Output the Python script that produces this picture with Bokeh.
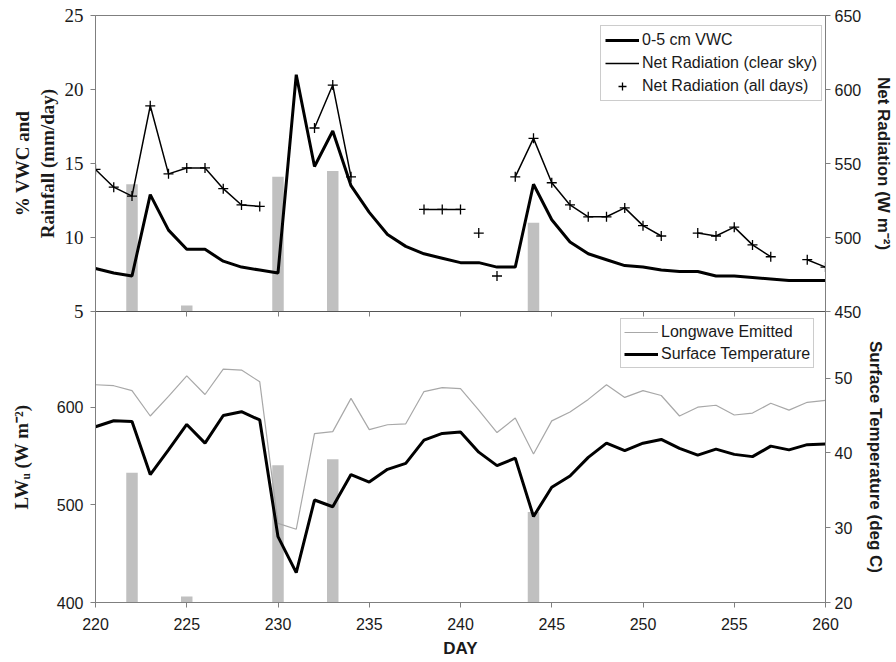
import numpy as np
from bokeh.plotting import figure
from bokeh.models import Range1d, LinearAxis, FixedTicker, Legend, LegendItem
from bokeh.layouts import column
from bokeh.embed import file_html
from bokeh.resources import INLINE

nan = np.nan

days = list(range(220, 261))

vwc = [7.9, 7.6, 7.4, 12.9, 10.5, 9.2, 9.2, 8.4, 8.0, 7.8, 7.6,
       21.0, 14.8, 17.2, 13.5, 11.7, 10.2, 9.4, 8.9, 8.6, 8.3,
       8.3, 8.0, 8.0, 13.6, 11.2, 9.7, 8.9, 8.5, 8.1, 8.0,
       7.8, 7.7, 7.7, 7.4, 7.4, 7.3, 7.2, 7.1, 7.1, 7.1]

net_rad_all = [546, 534, 528, 589, 543, 547, 547, 533, 522, 521, nan,
               nan, 574, 603, 541, nan, nan, nan, 519, 519, 519,
               503, 474, 541, 567, 537, 522, 514, 514, 520, 508,
               501, nan, 503, 501, 507, 495, 487, nan, 485, 480]

cloudy_days = [241, 242]
net_rad_clear = [nan if d in cloudy_days else v for d, v in zip(days, net_rad_all)]

rain_days = [222, 225, 230, 233, 244]
rain_mm = [13.6, 5.4, 14.1, 14.5, 11.0]

lw_emitted = [623, 622, 617, 591, 611, 632, 613, 639, 638, 626, 481,
              475, 573, 575, 609, 577, 582, 583, 616, 620, 619,
              597, 574, 589, 552, 586, 595, 608, 623, 610, 617,
              612, 591, 600, 602, 592, 594, 604, 597, 605, 607]

surf_temp = [43.5, 44.3, 44.2, 37.1, 40.4, 43.8, 41.3, 45.0, 45.5, 44.4, 28.8,
             24.0, 33.7, 32.8, 37.1, 36.1, 37.8, 38.6, 41.7, 42.6, 42.8,
             40.1, 38.3, 39.3, 31.5, 35.4, 36.9, 39.4, 41.3, 40.3, 41.3,
             41.8, 40.6, 39.7, 40.5, 39.8, 39.5, 40.9, 40.4, 41.1, 41.2]

x_ticks = [220, 225, 230, 235, 240, 245, 250, 255, 260]
vwc_ticks = [5, 10, 15, 20, 25]
rad_ticks = [450, 500, 550, 600, 650]
lw_ticks = [400, 500, 600]
temp_ticks = [20, 30, 40, 50]

AX = "#7f7f7f"
TXT = "#1a1a1a"
BAR = "#c0c0c0"
SANS = "Liberation Sans"
SERIF = "Liberation Serif"
OVERLAP = 13


def style_axis(ax, font, size, label_font, label_size, std, lstd):
    ax.axis_line_color = AX
    ax.major_tick_line_color = AX
    ax.minor_tick_line_color = None
    ax.major_tick_out = 5
    ax.major_tick_in = 0
    ax.major_label_text_font = font
    ax.major_label_text_font_size = size
    ax.major_label_text_color = TXT
    ax.major_label_standoff = std
    ax.axis_label_text_font = label_font
    ax.axis_label_text_font_size = label_size
    ax.axis_label_text_font_style = "bold"
    ax.axis_label_text_color = TXT
    ax.axis_label_standoff = lstd


def vertical_label(ax):
    if hasattr(type(ax), "axis_label_orientation"):
        ax.axis_label_orientation = "vertical"


# ---------------- top panel ----------------
p1 = figure(width=896, height=311 + OVERLAP, x_range=Range1d(220, 260), y_range=Range1d(5, 25),
            output_backend="svg", toolbar_location=None,
            min_border_left=95, min_border_right=68, min_border_top=15,
            min_border_bottom=OVERLAP)
p1.xaxis.visible = False
p1.grid.visible = False
p1.outline_line_color = AX
p1.background_fill_color = "white"
p1.border_fill_color = "white"

p1.extra_y_ranges = {"rad": Range1d(450, 650)}

p1.yaxis.ticker = FixedTicker(ticks=vwc_ticks)
p1.yaxis.axis_label = "% VWC and\nRainfall (mm/day)"
style_axis(p1.yaxis[0], SERIF, "19px", SERIF, "19px", 7, 4)
p1.yaxis[0].axis_label_text_line_height = 1.15

rax = LinearAxis(y_range_name="rad", ticker=FixedTicker(ticks=rad_ticks),
                 axis_label="Net Radiation (W m\u207b\u00b2)")
style_axis(rax, SANS, "16px", SANS, "17px", 4, 10)
vertical_label(rax)
p1.add_layout(rax, "right")

p1.vbar(x=rain_days, top=rain_mm, bottom=5, width=0.63, fill_color=BAR, line_color=None)
r_clear = p1.line(days, net_rad_clear, y_range_name="rad", line_color="black", line_width=1.5)
r_all = p1.scatter(days, net_rad_all, y_range_name="rad", marker="cross", size=10,
                   line_color="black", line_width=1.3)
r_vwc = p1.line(days, vwc, line_color="black", line_width=3)

leg1 = Legend(items=[LegendItem(label="0-5 cm VWC", renderers=[r_vwc]),
                     LegendItem(label="Net Radiation (clear sky)", renderers=[r_clear]),
                     LegendItem(label="Net Radiation (all days)", renderers=[r_all])],
              location=(505, 210))
leg1.label_text_font = SANS
leg1.label_text_font_size = "16px"
leg1.label_text_color = TXT
leg1.border_line_color = "#999999"
leg1.glyph_width = 34
leg1.glyph_height = 20
leg1.label_height = 20
leg1.spacing = 3
leg1.padding = 4
leg1.margin = 0
leg1.label_standoff = 3
p1.add_layout(leg1)

# ---------------- bottom panel ----------------
p2 = figure(width=896, height=351, x_range=p1.x_range, y_range=Range1d(400, 698),
            output_backend="svg", toolbar_location=None,
            min_border_left=95, min_border_right=68, min_border_top=0, min_border_bottom=60,
            styles={"margin-top": "-%dpx" % OVERLAP})
p2.grid.visible = False
p2.outline_line_color = AX
p2.background_fill_alpha = 0
p2.border_fill_alpha = 0
p2.extra_y_ranges = {"temp": Range1d(20, 58.9), "rain": Range1d(5, 24.3)}

p2.xaxis.ticker = FixedTicker(ticks=x_ticks)
p2.xaxis.axis_label = "DAY"
style_axis(p2.xaxis[0], SANS, "16px", SANS, "17px", 10, 6)

p2.yaxis.ticker = FixedTicker(ticks=lw_ticks)
p2.yaxis.axis_label = "LW\u1d64 (W m\u207b\u00b2)"
style_axis(p2.yaxis[0], SANS, "16px", SERIF, "19px", 7, 22)

tax = LinearAxis(y_range_name="temp", ticker=FixedTicker(ticks=temp_ticks),
                 axis_label="Surface Temperature (deg C)")
style_axis(tax, SANS, "16px", SANS, "17px", 4, 11)
vertical_label(tax)
p2.add_layout(tax, "right")

top_ticks = LinearAxis(ticker=FixedTicker(ticks=x_ticks))
top_ticks.axis_line_color = "#555555"
top_ticks.major_tick_line_color = AX
top_ticks.minor_tick_line_color = None
top_ticks.major_tick_in = 5
top_ticks.major_tick_out = 0
top_ticks.major_label_text_font_size = "0px"
top_ticks.major_label_text_color = None
top_ticks.major_label_standoff = 0
p2.add_layout(top_ticks, "above")

p2.vbar(x=rain_days, top=rain_mm, bottom=5, width=0.63, y_range_name="rain",
        fill_color=BAR, line_color=None)
r_lw = p2.line(days, lw_emitted, line_color="#a8a8a8", line_width=1.2)
r_ts = p2.line(days, surf_temp, y_range_name="temp", line_color="black", line_width=3)

leg2 = Legend(items=[LegendItem(label="Longwave Emitted", renderers=[r_lw]),
                     LegendItem(label="Surface Temperature", renderers=[r_ts])],
              location=(525, 234))
leg2.label_text_font = SANS
leg2.label_text_font_size = "16px"
leg2.label_text_color = TXT
leg2.border_line_color = "#999999"
leg2.background_fill_color = "white"
leg2.glyph_width = 34
leg2.glyph_height = 20
leg2.label_height = 20
leg2.spacing = 2
leg2.padding = 3
leg2.margin = 0
leg2.label_standoff = 3
p2.add_layout(leg2)

layout = column(p1, p2, spacing=0)
open("out.html", "w").write(file_html(layout, INLINE))
